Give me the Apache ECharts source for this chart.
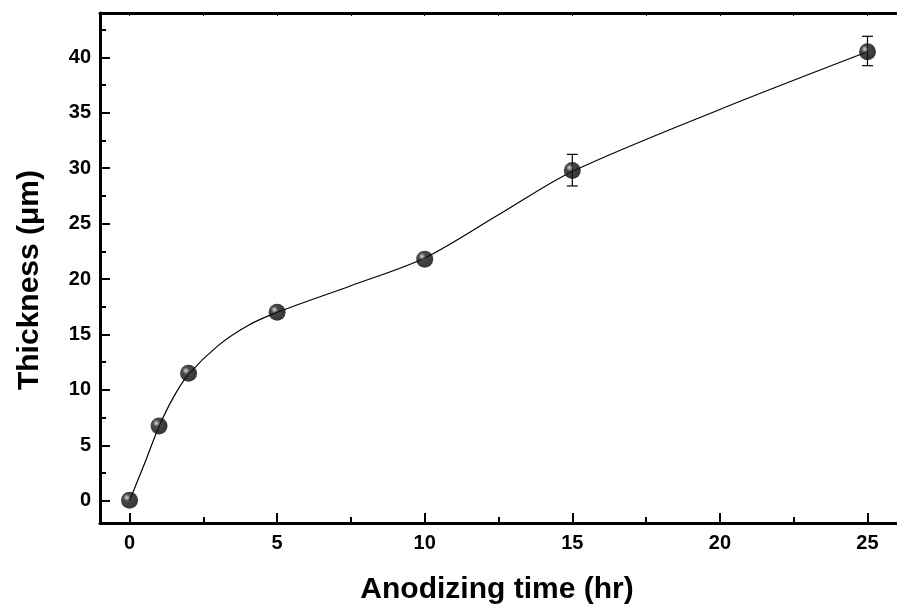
<!DOCTYPE html>
<html>
<head>
<meta charset="utf-8">
<script src="https://cdn.jsdelivr.net/npm/echarts@6/dist/echarts.min.js"></script>
<style>
html,body{margin:0;padding:0;background:#fff;}
#chart{width:897px;height:610px;}
</style>
</head>
<body>
<div id="chart"></div>
<script>
// Measured data points
var timeHr = [0, 1, 2, 5, 10, 15, 25];
var thickness = [0.05, 6.75, 11.5, 17.0, 21.8, 29.8, 40.5];
// Error bars (only visible ones)
var errTime = [15, 25];
var errLow = [28.4, 39.25];
var errHigh = [31.25, 41.9];
// Fitted curve, values
var fitTime = [0, 0.5, 1, 1.5, 2, 3, 4, 5, 7.5, 10, 12.5, 15, 20, 25];
var fitThick = [0, 3.3, 6.7, 9.4, 11.4, 14.0, 15.8, 17.0, 19.4, 21.9, 25.8, 29.7, 35.3, 40.5];
// Ticks
var xMajorTicks = [0, 5, 10, 15, 20, 25];
var xMinorTicks = [2.5, 7.5, 12.5, 17.5, 22.5];
var yMajorTicks = [0, 5, 10, 15, 20, 25, 30, 35, 40];
var yMinorTicks = [2.5, 7.5, 12.5, 17.5, 22.5, 27.5, 32.5, 37.5, 42.5];
var xTitle = 'Anodizing time (hr)';
var yTitle = 'Thickness (\u03bcm)';

var FONT = "Liberation Sans, Arial, sans-serif";
var chart = echarts.init(document.getElementById('chart'), null, {renderer: 'canvas'});

var pts = timeHr.map(function (t, i) { return [t, thickness[i]]; });
var fitPts = fitTime.map(function (t, i) { return [t, fitThick[i]]; });
var errData = errTime.map(function (t, i) { return [t, errLow[i], errHigh[i]]; });

var sphere = {
  type: 'radial', x: 0.34, y: 0.34, r: 0.75,
  colorStops: [
    {offset: 0, color: '#dcdcdc'},
    {offset: 0.1, color: '#8a8a8a'},
    {offset: 0.28, color: '#1a1a1a'},
    {offset: 1, color: '#000000'}
  ]
};

function baseX(extra) {
  return Object.assign({
    type: 'value', min: -1, max: 26, gridIndex: 0,
    splitLine: {show: false},
    axisLine: {show: false, onZero: false},
    axisLabel: {show: false},
    axisTick: {show: false}
  }, extra);
}
function baseY(extra) {
  return Object.assign({
    type: 'value', min: -2, max: 44, gridIndex: 0,
    splitLine: {show: false},
    axisLine: {show: false, onZero: false},
    axisLabel: {show: false},
    axisTick: {show: false}
  }, extra);
}

var option = {
  animation: false,
  backgroundColor: '#fff',
  grid: {left: 100, top: 13, width: 807, height: 510},
  xAxis: [
    baseX({
      position: 'bottom',
      axisLine: {show: true, onZero: false, lineStyle: {color: '#000', width: 3}},
      axisTick: {show: true, inside: true, length: 10, customValues: xMajorTicks, lineStyle: {color: '#000', width: 2}},
      axisLabel: {show: true, customValues: xMajorTicks, margin: 10, color: '#000', fontFamily: FONT, fontWeight: 'bold', fontSize: 20}
    }),
    baseX({
      position: 'bottom',
      axisTick: {show: true, inside: true, length: 6, customValues: xMinorTicks, lineStyle: {color: '#000', width: 2}}
    }),
    baseX({
      position: 'top',
      axisLine: {show: true, onZero: false, lineStyle: {color: '#000', width: 3}},
      axisTick: {show: true, inside: true, length: 3, customValues: xMajorTicks.concat(xMinorTicks), lineStyle: {color: '#000', width: 1}}
    })
  ],
  yAxis: [
    baseY({
      position: 'left',
      axisLine: {show: true, onZero: false, lineStyle: {color: '#000', width: 3}},
      axisTick: {show: true, inside: true, length: 10, customValues: yMajorTicks, lineStyle: {color: '#000', width: 2}},
      axisLabel: {show: true, customValues: yMajorTicks, margin: 9, color: '#000', fontFamily: FONT, fontWeight: 'bold', fontSize: 20}
    }),
    baseY({
      position: 'left',
      axisTick: {show: true, inside: true, length: 6, customValues: yMinorTicks, lineStyle: {color: '#000', width: 2}}
    })
  ],
  graphic: [
    {
      type: 'text', x: 497, y: 590,
      style: {text: xTitle, font: 'bold 30px ' + FONT, fill: '#000', textAlign: 'center', textVerticalAlign: 'middle'}
    },
    {
      type: 'text', x: 30, y: 280, rotation: Math.PI / 2,
      style: {text: yTitle, font: 'bold 30px ' + FONT, fill: '#000', textAlign: 'center', textVerticalAlign: 'middle'}
    }
  ],
  series: [
    {
      type: 'line', xAxisIndex: 0, yAxisIndex: 0,
      data: fitPts, smooth: 0.3,
      showSymbol: false, symbol: 'none',
      lineStyle: {color: '#000', width: 1.2},
      z: 2
    },
    {
      type: 'custom', xAxisIndex: 0, yAxisIndex: 0,
      data: errData,
      renderItem: function (params, api) {
        var x = api.value(0);
        var lo = api.coord([x, api.value(1)]);
        var hi = api.coord([x, api.value(2)]);
        var hw = 5.5;
        var st = {stroke: '#000', lineWidth: 1.2};
        return {
          type: 'group',
          children: [
            {type: 'line', shape: {x1: lo[0], y1: lo[1], x2: hi[0], y2: hi[1]}, style: st},
            {type: 'line', shape: {x1: lo[0] - hw, y1: lo[1], x2: lo[0] + hw, y2: lo[1]}, style: st},
            {type: 'line', shape: {x1: hi[0] - hw, y1: hi[1], x2: hi[0] + hw, y2: hi[1]}, style: st}
          ]
        };
      },
      z: 3
    },
    {
      type: 'scatter', xAxisIndex: 0, yAxisIndex: 0,
      data: pts, symbol: 'circle', symbolSize: 17,
      itemStyle: {color: sphere, borderWidth: 0},
      z: 4
    }
  ]
};
chart.setOption(option);
</script>
</body>
</html>
